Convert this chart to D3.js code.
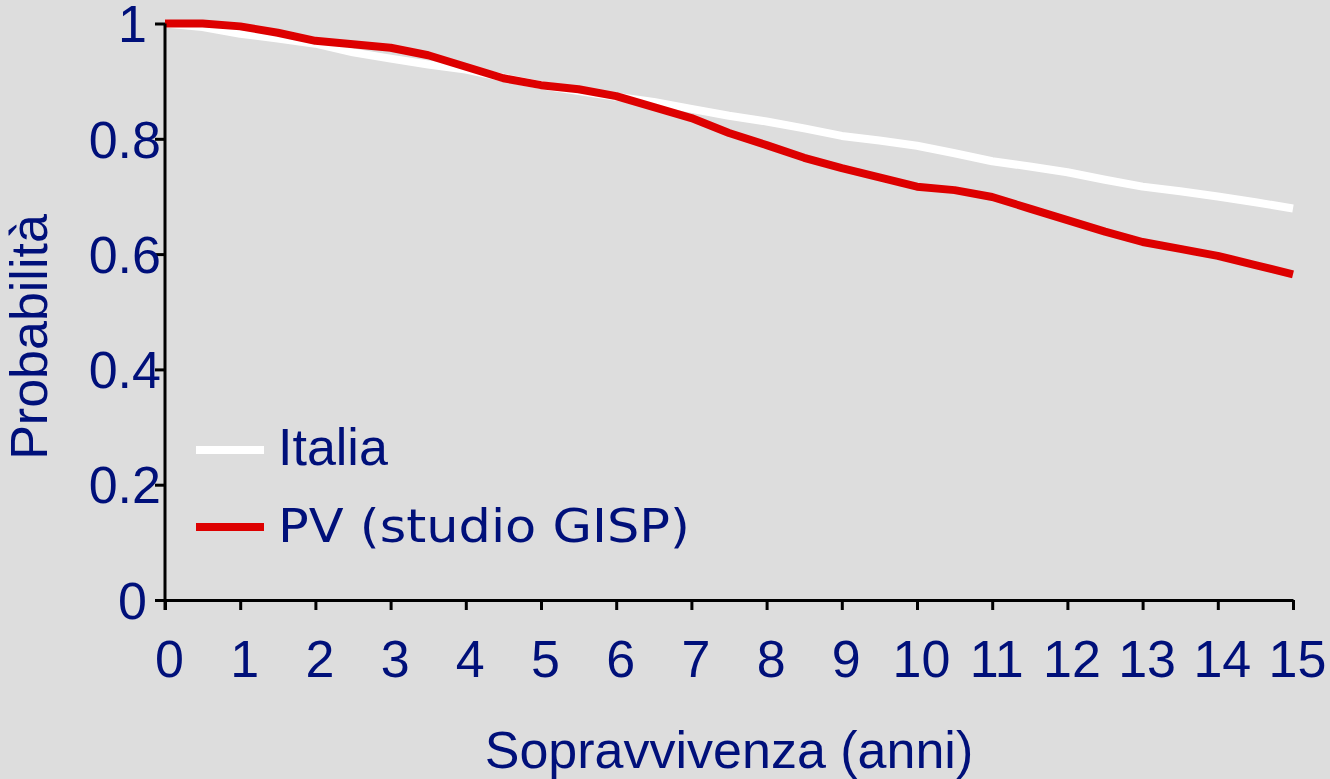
<!DOCTYPE html>
<html>
<head>
<meta charset="utf-8">
<script src="https://cdn.jsdelivr.net/npm/d3@7"></script>
<style>
  html, body { margin: 0; padding: 0; background: #dddddd; }
  svg { display: block; }
</style>
</head>
<body>
<div id="mainDiv"></div>
<script>
'use strict';

// anni, ogni mezzo anno
var anni = [0, 0.5, 1, 1.5, 2, 2.5, 3, 3.5, 4, 4.5, 5, 5.5, 6, 6.5, 7, 7.5,
            8, 8.5, 9, 9.5, 10, 10.5, 11, 11.5, 12, 12.5, 13, 13.5, 14, 14.5, 15];

var italia = [1.0, 0.994, 0.982, 0.974, 0.965, 0.950, 0.939, 0.929, 0.920, 0.906, 0.893,
              0.883, 0.873, 0.864, 0.852, 0.840, 0.830, 0.818, 0.805, 0.797, 0.788,
              0.775, 0.761, 0.752, 0.742, 0.729, 0.717, 0.709, 0.700, 0.690, 0.679];

var pv = [1.0, 1.0, 0.995, 0.984, 0.970, 0.964, 0.958, 0.945, 0.925, 0.905, 0.893,
          0.886, 0.874, 0.855, 0.836, 0.810, 0.789, 0.767, 0.749, 0.733, 0.717,
          0.711, 0.699, 0.679, 0.659, 0.639, 0.621, 0.609, 0.597, 0.581, 0.565];

var xTicks = [0, 1, 2, 3, 4, 5, 6, 7, 8, 9, 10, 11, 12, 13, 14, 15];
var yTicks = [0, 0.2, 0.4, 0.6, 0.8, 1];

var serie = [
    { nome: 'Italia', valori: italia, colore: '#ffffff' },
    { nome: 'PV (studio GISP)', valori: pv, colore: '#dd0000' }
];

var W = 1330, H = 779;
var navy = '#00107a';

var svg = d3.select('#mainDiv').append('svg')
    .attr('width', W)
    .attr('height', H);

svg.append('rect').attr('width', W).attr('height', H).attr('fill', '#dddddd');

var x = d3.scaleLinear().domain([0, 15]).range([165, 1293]);
var y = d3.scaleLinear().domain([0, 1]).range([600, 23.5]);

// linee
var line = d3.line()
    .x(function (d, i) { return x(anni[i]); })
    .y(function (d) { return y(d); });

svg.selectAll('path.serie')
    .data(serie)
    .enter()
    .append('path')
        .attr('class', 'serie')
        .attr('d', function (s) { return line(s.valori); })
        .attr('fill', 'none')
        .attr('stroke', function (s) { return s.colore; })
        .attr('stroke-width', 8)
        .attr('stroke-linejoin', 'round');

// assi
var xAxis = d3.axisBottom(x).tickValues(xTicks).tickSize(10).tickSizeOuter(0)
    .tickFormat(d3.format('d'));
var yAxis = d3.axisLeft(y).tickValues(yTicks).tickSize(10).tickSizeOuter(0)
    .tickFormat(function (d) { return String(d); });

var gx = svg.append('g').attr('transform', 'translate(0,600)').call(xAxis);
var gy = svg.append('g').attr('transform', 'translate(165,0)').call(yAxis);

[gx, gy].forEach(function (g) {
    g.select('.domain').attr('stroke', '#000').attr('stroke-width', 3);
    g.selectAll('.tick line').attr('stroke', '#000').attr('stroke-width', 3);
    g.selectAll('.tick text')
        .attr('fill', navy)
        .attr('font-family', 'Liberation Sans, Arial, sans-serif')
        .attr('font-size', '52px');
});

gy.select('.domain').attr('d', 'M0,' + y(1) + 'V' + 610);

gx.selectAll('.tick text').attr('y', 77).attr('dy', 0).attr('x', 4);

gy.selectAll('.tick text')
    .attr('x', function (d) { return d === 0 || d === 1 ? -18 : -4; })
    .attr('dy', '0.35em');

// titoli assi
svg.append('text')
    .attr('x', 729).attr('y', 768)
    .attr('text-anchor', 'middle')
    .attr('fill', navy)
    .attr('font-family', 'Liberation Sans, Arial, sans-serif')
    .attr('font-size', '52px')
    .text('Sopravvivenza (anni)');

svg.append('text')
    .attr('transform', 'translate(47,337) rotate(-90)')
    .attr('text-anchor', 'middle')
    .attr('fill', navy)
    .attr('font-family', 'Liberation Sans, Arial, sans-serif')
    .attr('font-size', '52px')
    .text('Probabilità');

// legenda
var leg = svg.selectAll('g.leg')
    .data(serie)
    .enter()
    .append('g')
        .attr('class', 'leg')
        .attr('transform', function (d, i) { return 'translate(196,' + (450 + i * 77) + ')'; });

leg.append('line')
    .attr('x1', 0).attr('x2', 68)
    .attr('stroke', function (d) { return d.colore; })
    .attr('stroke-width', 8);

leg.append('text')
    .attr('x', 82)
    .attr('y', 15)
    .attr('fill', navy)
    .attr('font-family', function (d, i) {
        return i === 0 ? 'Liberation Sans, Arial, sans-serif' : '"Comic Sans MS", "DejaVu Sans", sans-serif';
    })
    .attr('font-size', function (d, i) { return i === 0 ? '52px' : '46px'; })
    .attr('textLength', function (d, i) { return i === 0 ? null : 412; })
    .attr('lengthAdjust', 'spacingAndGlyphs')
    .text(function (d) { return d.nome; });
</script>
</body>
</html>
